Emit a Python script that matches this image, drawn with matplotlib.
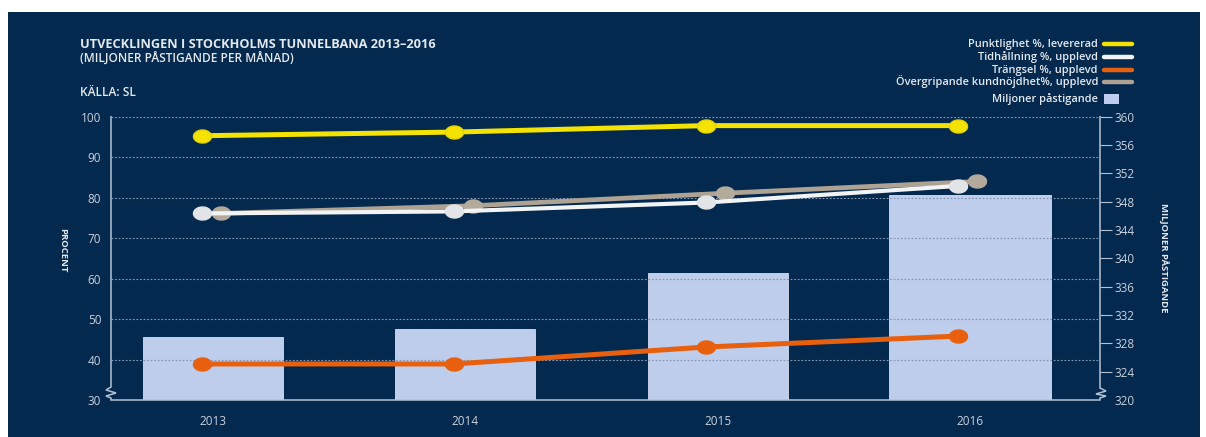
import numpy as np
import matplotlib
matplotlib.use("Agg")
import matplotlib.pyplot as plt
from matplotlib.lines import Line2D
from matplotlib.patches import Rectangle
from matplotlib.path import Path
from matplotlib.markers import MarkerStyle

plt.rcParams['font.family'] = ['Open Sans', 'DejaVu Sans']

# ---- data -------------------------------------------------------------
years = ['2013', '2014', '2015', '2016']
punktlighet = [95.3, 96.2, 97.8, 97.8]      # % levererad
tidhallning = [76.1, 76.6, 78.8, 82.9]      # % upplevd
trangsel = [38.9, 38.9, 43.1, 45.8]         # % upplevd
kundnojdhet = [76.1, 78.0, 81.1, 84.0]      # % upplevd
pastigande = [328.9, 330.0, 337.9, 349.0]   # miljoner påstigande

pct_ticks = list(range(30, 101, 10))
mil_ticks = list(range(320, 361, 4))

legend_labels = ['Punktlighet %, levererad', 'Tidhållning %, upplevd',
                 'Trängsel %, upplevd', 'Övergripande kundnöjdhet%, upplevd']
bar_label = 'Miljoner påstigande'

# ---- style ------------------------------------------------------------
NAVY = '#03294f'
AXIS = '#b4c2d6'
GRID = '#8598b3'
TEXT = '#e4e9f0'
TICKTXT = '#c9d2de'
BAR = '#bfcdec'
YELLOW = '#f4e200'
WHITE = '#f2f3f5'
WHITE_MK = '#e3e4e8'
ORANGE = '#e8600e'
TAN = '#aea393'
TAN_MK = '#b4aa9c'

W, H = 1206, 437
fig = plt.figure(figsize=(W / 100, H / 100), dpi=100, facecolor='white')
fig.patches.append(Rectangle((8 / W, 0), (1200 - 8) / W, (H - 12) / H,
                             transform=fig.transFigure, facecolor=NAVY,
                             edgecolor='none', zorder=-10))


def fx(px):
    return px / W


def fy(py):
    return 1 - py / H


def fig_line(xs, ys, **kw):
    fig.lines.append(Line2D([fx(v) for v in xs], [fy(v) for v in ys],
                            transform=fig.transFigure, **kw))


ax = fig.add_axes([fx(111), fy(400), (1100 - 111) / W, 283.3 / H])
ax2 = ax.twinx()
ax.set_zorder(2)
ax2.set_zorder(1)
ax.patch.set_visible(False)
ax2.patch.set_visible(False)

x = np.arange(len(years))
bar_widths = [0.555, 0.555, 0.555, 0.64]

# bars on the passenger scale
ax2.bar(x, pastigande, width=bar_widths, color=BAR, edgecolor='#d5def2',
        linewidth=0.6)
ax2.set_ylim(320, 360)
ax2.set_yticks(mil_ticks)
ax2.tick_params(axis='y', direction='out', length=8.6, width=0.8,
                color=AXIS, pad=1.5, labelsize=8.5, labelcolor=TICKTXT)
ax2.yaxis.get_major_ticks()[0].tick2line.set_visible(False)

# percent lines
ellipse_t = np.linspace(0, 2 * np.pi, 60)
ellipse = MarkerStyle(Path(np.column_stack([np.cos(ellipse_t),
                                            0.72 * np.sin(ellipse_t)])))
line_x = x - 0.045
tan_x = x + 0.03

ax.plot(tan_x, kundnojdhet, color=TAN, lw=3.4, marker=ellipse, ms=13,
        mfc=TAN_MK, mec=TAN_MK, zorder=3)
ax.plot(line_x, tidhallning, color=WHITE, lw=3.0, marker=ellipse, ms=13,
        mfc=WHITE_MK, mec=WHITE_MK, zorder=4)
ax.plot(line_x, trangsel, color=ORANGE, lw=3.6, marker=ellipse, ms=13,
        mfc=ORANGE, mec=ORANGE, zorder=4)
ax.plot(line_x, punktlighet, color=YELLOW, lw=3.6, marker=ellipse, ms=13,
        mfc=YELLOW, mec='#e6d300', zorder=4)

for v in pct_ticks[1:]:
    ax.axhline(v, color=GRID, lw=0.8, ls=(0, (1.6, 1.6)), zorder=1)

ax.set_ylim(30, 100)
ax.set_xlim(-0.405, 3.516)
ax.set_yticks(pct_ticks)
ax.set_xticks(x)
ax.set_xticklabels(years)
ax.tick_params(axis='y', length=0, pad=7, labelsize=8.5, labelcolor=TICKTXT)
ax.tick_params(axis='x', length=0, pad=11, labelsize=8.5, labelcolor=TICKTXT)

for a in (ax, ax2):
    for s in a.spines.values():
        s.set_visible(False)

# axis lines with break marks
fig_line([111, 111, 106, 116, 106, 111, 111, 1100, 1100, 1106, 1096, 1106, 1100, 1100],
         [116.7, 387, 390, 393, 396, 398, 400, 400, 398, 396, 394, 391, 388, 116.7],
         color=AXIS, lw=1.1, solid_joinstyle='miter')

# titles
fig.text(fx(80), fy(45), 'UTVECKLINGEN I STOCKHOLMS TUNNELBANA 2013–2016',
         fontsize=9.2, fontweight='bold', color=TEXT, va='center', ha='left')
fig.text(fx(80), fy(58), '(MILJONER PÅSTIGANDE PER MÅNAD)',
         fontsize=8.6, fontweight=600, color=TEXT, va='center', ha='left')
fig.text(fx(80), fy(92), 'KÄLLA: SL', fontsize=8.6, fontweight=600,
         color=TEXT, va='center', ha='left')

fig.text(fx(63), fy(250), 'PROCENT', rotation=-90, fontsize=6.8,
         fontweight='bold', color=TEXT, ha='center', va='center')
fig.text(fx(1163), fy(258), 'MILJONER PÅSTIGANDE', rotation=-90, fontsize=6.8,
         fontweight='bold', color=TEXT, ha='center', va='center')

# legend
leg_colors = [YELLOW, WHITE, ORANGE, TAN]
for lab, col, yy in zip(legend_labels, leg_colors, [44, 57, 70, 82]):
    fig.text(fx(1098), fy(yy), lab, fontsize=7.9, fontweight=600, color=TEXT,
             ha='right', va='center')
    fig_line([1104, 1132], [yy, yy], color=col, lw=3.2,
             solid_capstyle='round')
fig.text(fx(1098), fy(99), bar_label, fontsize=7.9, fontweight=600, color=TEXT,
         ha='right', va='center')
fig.patches.append(Rectangle((fx(1104), fy(104)), 15 / W, 10 / H,
                             transform=fig.transFigure, facecolor=BAR,
                             edgecolor='none'))

fig.savefig('out.png', dpi=100, facecolor='white')
